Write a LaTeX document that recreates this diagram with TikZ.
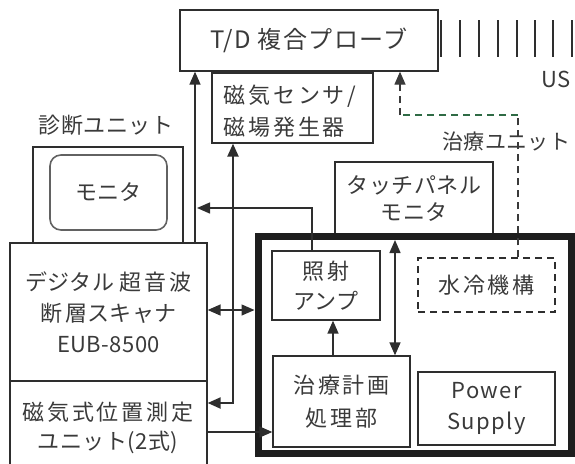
\documentclass[tikz,border=0pt]{standalone}
\usepackage{fontspec}
\newfontfamily\jpa{Noto Sans CJK JP}[LetterSpace=2]
\newfontfamily\jpb{Noto Sans CJK JP}[LetterSpace=13]
\newfontfamily\jpp{Noto Sans CJK JP}[LetterSpace=6]
\usetikzlibrary{arrows.meta}
\definecolor{linec}{HTML}{2E2E2E}
\definecolor{txtc}{HTML}{3A3A3A}
\definecolor{thickc}{HTML}{1E1E1E}
\definecolor{dashg}{HTML}{2F6B45}
\definecolor{dashk}{HTML}{3A3A3A}
\begin{document}
\begin{tikzpicture}[x=1pt,y=-1pt,
  box/.style={draw=linec, line width=1.3pt, inner sep=0pt, text=txtc},
  lbl/.style={text=txtc, inner sep=0pt},
  fs/.style={font=\fontsize{22}{#1}\selectfont},
  conn/.style={draw=linec, line width=1.4pt},
  tip/.tip={Triangle[length=13pt,width=11pt]},
  arr/.style={-tip},
  darr/.style={tip-tip},
  dsh/.style={line width=1.3pt, dash pattern=on 7pt off 5pt}]
\useasboundingbox (0,0) rectangle (575,463);

% top probe
\node[box, minimum width=258pt, minimum height=61pt, font=\jpp\fontsize{24}{26}\selectfont] (probe) at (309,40.5) {T/D 複合プローブ};
\foreach \x [count=\i] in {441,460,479,498,517,535,553,572}
  \draw[linec, line width=1.2pt] (\x,20) -- (\x,57);
\node[lbl, fs=26] (us) at (556,79) {\jpa US};

% magnetic sensor
\node[box, minimum width=161pt, minimum height=70pt] (sensor) at (292.5,108) {};
\node[lbl, fs=32, align=left] (sensortxt) at (290,111) {\jpb 磁気センサ/\\\jpb 磁場発生器};

% diagnostic unit
\node[lbl, fs=26] (diaglbl) at (106,125) {\jpa 診断ユニット};
\node[box, minimum width=150pt, minimum height=96pt] (diag) at (108,195) {};
\node[box, draw=linec!75, line width=1.6pt, rounded corners=11pt, minimum width=117pt, minimum height=75pt, fs=26] (mon) at (108.5,192.5) {\jpa モニタ};

% scanner
\node[box, minimum width=197pt, minimum height=138pt, align=center, fs=31] (scanner) at (108.5,312) {{\jpa デジタル }{\jpb 超音波}\\{\jpb 断層}{\jpa スキャナ}\\{\jpa EUB-8500}};
% position unit
\node[box, minimum width=197pt, minimum height=92pt] (posunit) at (108.5,427) {};
\node[lbl, fs=29, align=center] (postxt) at (108,428) {\jpb 磁気式位置測定\\\jpa ユニット(2式)};

% treatment unit
\node[lbl, font=\jpa\fontsize{21}{24}\selectfont, anchor=west] (txlbl) at (442,142) {治療ユニット};
\node[box, minimum width=158pt, minimum height=74pt, align=center, fs=27] (touch) at (414,199) {\jpa タッチパネル\\\jpa モニタ};
\node[draw=thickc, line width=7pt, minimum width=313pt, minimum height=217pt, inner sep=0pt] (tu) at (414.5,344.5) {};
\node[box, minimum width=108pt, minimum height=69pt, align=center, fs=30] (amp) at (326,285.5) {\jpb 照射\\\jpa アンプ};
\node[box, dsh, minimum width=137pt, minimum height=54pt, fs=26] (water) at (486.5,285) {\jpb 水冷機構};
\node[box, minimum width=137pt, minimum height=91pt, align=center, fs=33] (plan) at (341.5,401.5) {\jpb 治療計画\\\jpb 処理部};
\node[box, minimum width=137pt, minimum height=73pt, align=center, fs=31] (power) at (486.5,408.5) {\jpp Power\\\jpp Supply};

% helper coordinates
\coordinate (c195) at (195,0);
\coordinate (c233) at (233,0);
\coordinate (c312) at (312,0);
\coordinate (c333) at (333,0);
\coordinate (c395) at (395,0);
\coordinate (c400) at (400,0);
\coordinate (c518) at (518,0);
\coordinate (y310) at (0,310);
\coordinate (y403) at (0,403);
\coordinate (y432) at (0,432);
\coordinate (mtip) at (197,208);
\coordinate (tin) at (395,240);
\coordinate (dcorner) at (518,115);
\coordinate (dcorner2) at (400,115);

% connectors
\draw[conn, arr] (scanner.north -| c195) -- (probe.south -| c195);
\draw[conn, line width=2.2pt, darr] (posunit.east |- y403) -| (sensor.south -| c233);
\draw[conn, arr] (amp.north -| c312) |- (mtip);
\draw[conn, darr] (scanner.east |- y310) -- (tu.west |- y310);
\draw[conn, arr] (posunit.east |- y432) -- (plan.west |- y432);
\draw[conn, arr] (plan.north -| c333) -- (amp.south -| c333);
\draw[conn, darr] (plan.north -| c395) -- (tin);
\draw[dsh, dashk] (water.north -| c518) -- (dcorner);
\draw[dsh, dashg] (dcorner) -- (dcorner2);
\draw[dsh, dashk, arr] (dcorner2) -- (probe.south -| c400);
\end{tikzpicture}
\end{document}
